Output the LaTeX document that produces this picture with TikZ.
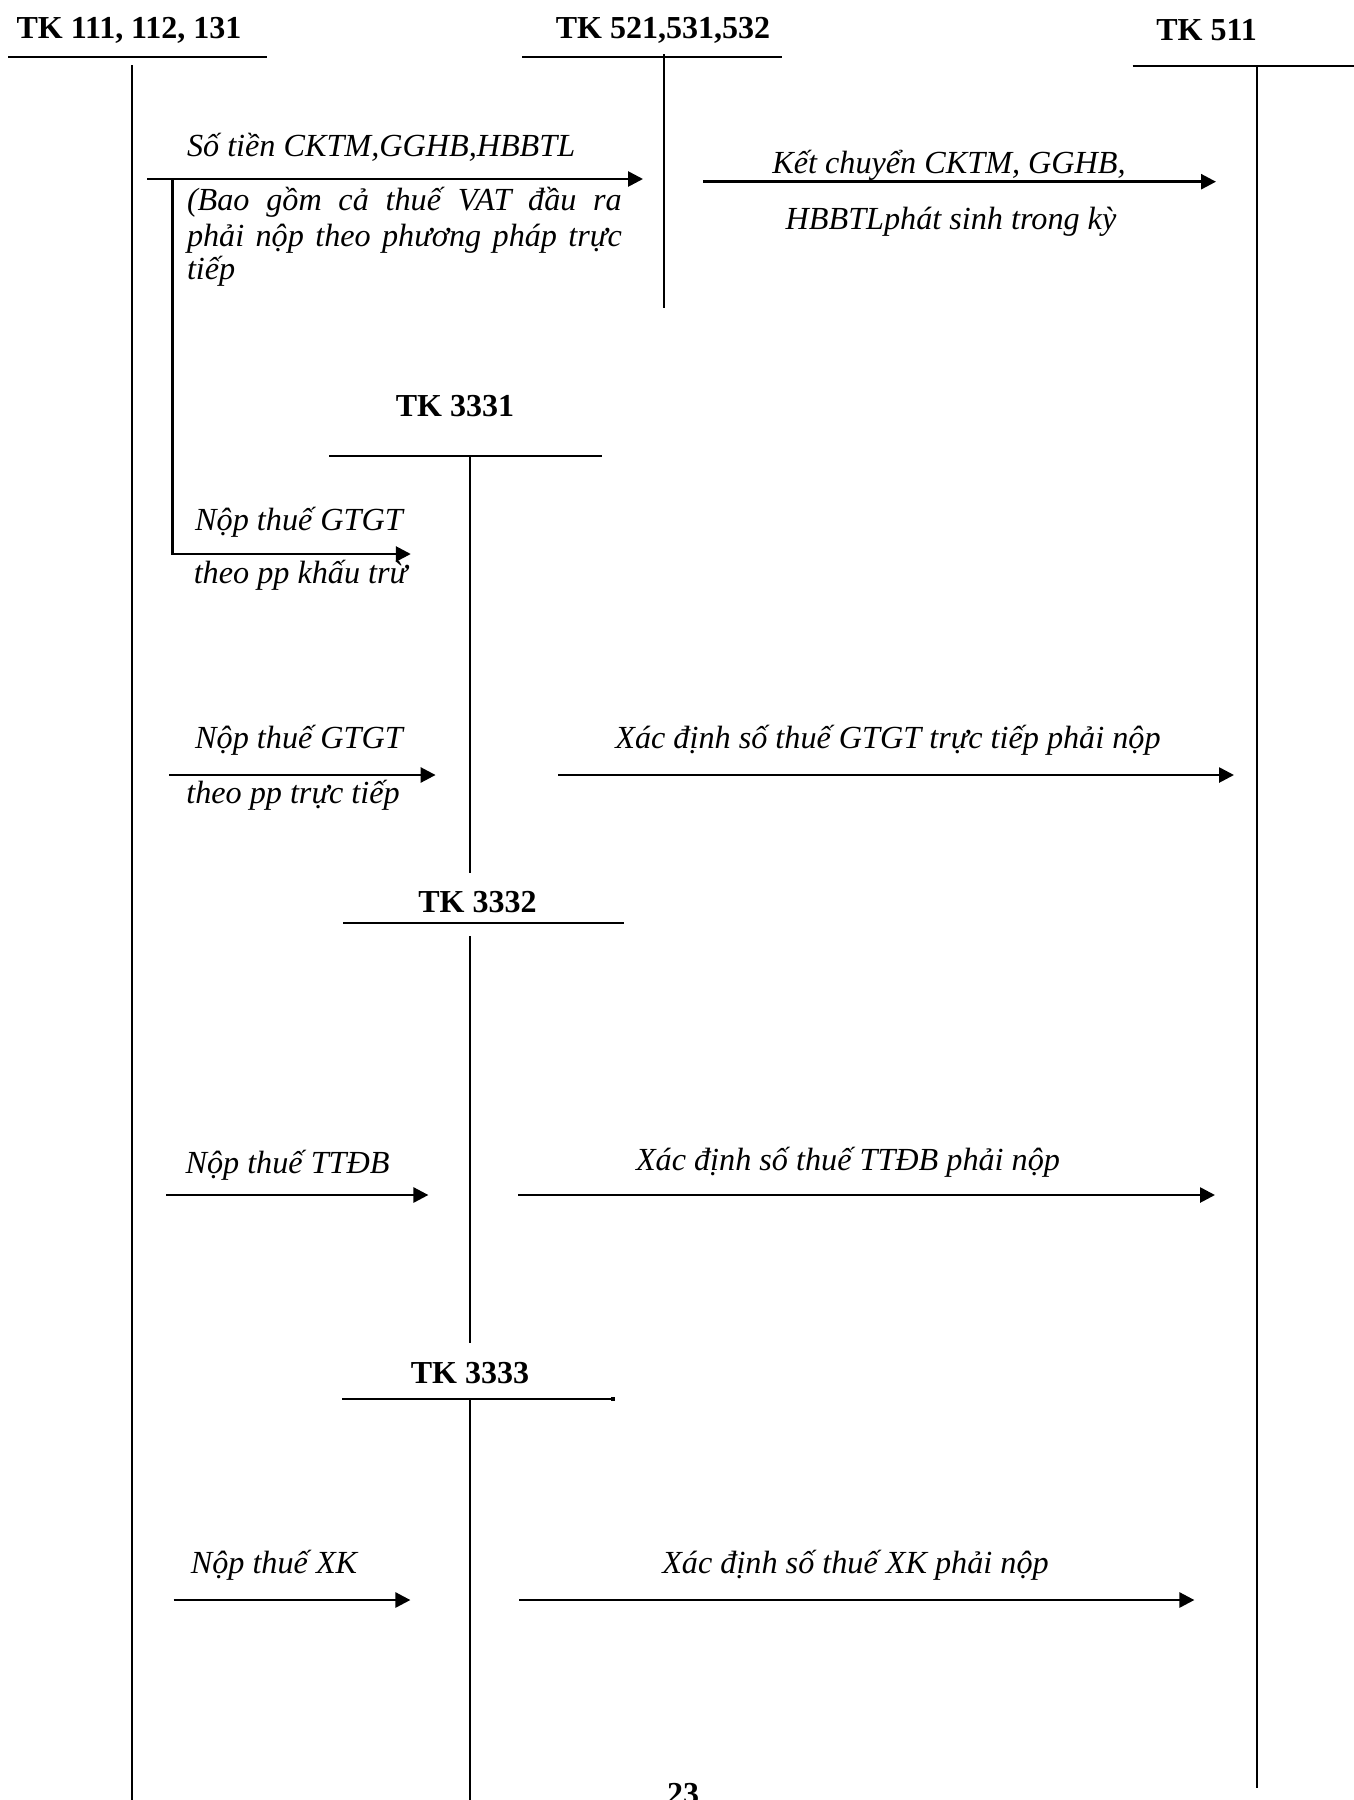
\documentclass[tikz,border=0pt]{standalone}
\usepackage{fontspec}
\setmainfont{Liberation Serif}
\usetikzlibrary{arrows.meta}
\begin{document}
\begin{tikzpicture}[x=0.5pt,y=-0.5pt,
  acct/.style={font=\fontsize{16pt}{18pt}\selectfont\bfseries, inner sep=0pt, anchor=base},
  lbl/.style={font=\fontsize{16.1pt}{18pt}\selectfont\itshape, inner sep=0pt, anchor=base},
  lblw/.style={lbl, anchor=base west},
  tline/.style={line width=1pt},
  flow/.style={line width=1.35pt, -{Triangle[length=7.5pt,width=7.5pt]}}]
\useasboundingbox (0,0) rectangle (1354,1800);
\clip (0,0) rectangle (1354,1800);

% ---- account headers ----
\node[acct] (h111) at (129,38) {TK 111, 112, 131};
\node[acct] (h521) at (663,38) {TK 521,531,532};
\node[acct] (h511) at (1206.5,40) {TK 511};
\node[acct] (h3331) at (455,416) {TK 3331};
\node[acct] (h3332) at (477.5,912.7) {TK 3332};
\node[acct] (h3333) at (470,1383) {TK 3333};

% ---- T-account lines ----
\coordinate (t111l) at (8,57.3);    \coordinate (t111r) at (266.5,57.3);
\coordinate (t111t) at (131.7,65);  \coordinate (t111b) at (131.7,1800);
\coordinate (t521l) at (522,57.3);  \coordinate (t521r) at (781.6,57.3);
\coordinate (t521t) at (663.7,54);  \coordinate (t521b) at (663.7,308);
\coordinate (t511l) at (1132.7,65.7); \coordinate (t511r) at (1354,65.7);
\coordinate (t511t) at (1257,65.7); \coordinate (t511b) at (1257,1788);
\coordinate (t3331l) at (329,455.7); \coordinate (t3331r) at (602,455.7);
\coordinate (t3331t) at (469.7,455.7); \coordinate (t3331b) at (469.7,873);
\coordinate (t3332l) at (343,922.7); \coordinate (t3332r) at (623.5,922.7);
\coordinate (t3332t) at (469.7,936); \coordinate (t3332b) at (469.7,1343);
\coordinate (t3333l) at (342.4,1399); \coordinate (t3333r) at (612,1399);
\coordinate (t3333t) at (469.6,1399); \coordinate (t3333b) at (469.6,1800);

\draw[tline] (t111l) -- (t111r) (t111t) -- (t111b);
\draw[tline] (t521l) -- (t521r) (t521t) -- (t521b);
\draw[tline] (t511l) -- (t511r) (t511t) -- (t511b);
\draw[tline] (t3331l) -- (t3331r) (t3331t) -- (t3331b);
\draw[tline] (t3332l) -- (t3332r) (t3332t) -- (t3332b);
\draw[tline] (t3333l) -- (t3333r) (t3333t) -- (t3333b);
\fill (610.5,1397) rectangle (614.5,1400.5);

% ---- flows ----
\coordinate (a1s) at (147,179);   \coordinate (a1e) at (643,179);
\coordinate (br)  at (172.5,179); \coordinate (brc) at (172.5,554);
\coordinate (a3e) at (410.8,554);
\coordinate (a2s) at (703,181.7); \coordinate (a2e) at (1216,181.7);
\coordinate (a4s) at (169,775);   \coordinate (a4e) at (435.6,775);
\coordinate (a5s) at (558,775);   \coordinate (a5e) at (1234,775);
\coordinate (a6s) at (166,1195);  \coordinate (a6e) at (428.4,1195);
\coordinate (a7s) at (518.3,1195); \coordinate (a7e) at (1215,1195);
\coordinate (a8s) at (173.6,1600); \coordinate (a8e) at (410.4,1600);
\coordinate (a9s) at (519,1600);  \coordinate (a9e) at (1194.4,1600);

\draw[flow] (a1s) -- (a1e);
\draw[line width=1.1pt] (br) -- (brc);
\draw[flow] ([xshift=-0.55pt]brc) -- (a3e);
\draw[flow] (a2s) -- (a2e);
\draw[flow] (a4s) -- (a4e);
\draw[flow] (a5s) -- (a5e);
\draw[flow] (a6s) -- (a6e);
\draw[flow] (a7s) -- (a7e);
\draw[flow] (a8s) -- (a8e);
\draw[flow] (a9s) -- (a9e);

% ---- labels ----
\node[lblw] (l1) at (186.6,156) {Số tiền CKTM,GGHB,HBBTL};
\node[lblw] (l1a) at (186.6,210) {\makebox[217.4pt][s]{(Bao gồm cả thuế VAT đầu ra}};
\node[lblw] (l1b) at (186.6,246) {\makebox[217.4pt][s]{phải nộp theo phương pháp trực}};
\node[lblw] (l1c) at (186.6,279) {tiếp};

\node[lbl] (l2a) at (949,173) {Kết chuyển CKTM, GGHB,};
\node[lbl] (l2b) at (951,229) {HBBTLphát sinh trong kỳ};

\node[lbl] (l3a) at (299,530) {Nộp thuế GTGT};
\node[lbl] (l3b) at (300.5,583) {theo pp khấu trừ};

\node[lbl] (l4a) at (299,748) {Nộp thuế GTGT};
\node[lbl] (l4b) at (293,803) {theo pp trực tiếp};
\node[lbl] (l5) at (888,748) {Xác định số thuế GTGT trực tiếp phải nộp};

\node[lbl] (l6) at (287.5,1173) {Nộp thuế TTĐB};
\node[lbl] (l7) at (848,1170) {Xác định số thuế TTĐB phải nộp};

\node[lbl] (l8) at (274,1573) {Nộp thuế XK};
\node[lbl] (l9) at (855.5,1573) {Xác định số thuế XK phải nộp};

% ---- page number ----
\node[acct] (pg) at (683,1804) {23};
\end{tikzpicture}
\end{document}
